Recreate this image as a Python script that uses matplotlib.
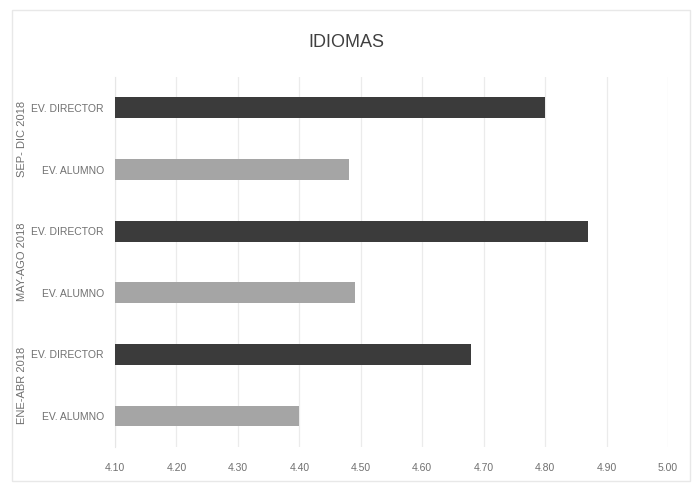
import matplotlib.pyplot as plt
import matplotlib.transforms as mtransforms
from matplotlib.patches import Rectangle

periods = ["ENE-ABR 2018", "MAY-AGO 2018", "SEP- DIC 2018"]
roles = ["EV. ALUMNO", "EV. DIRECTOR"]
alumno = [4.40, 4.49, 4.48]
director = [4.68, 4.87, 4.80]
xticks = [4.10, 4.20, 4.30, 4.40, 4.50, 4.60, 4.70, 4.80, 4.90, 5.00]

plt.rcParams["font.family"] = ["Liberation Sans", "DejaVu Sans"]

fig = plt.figure(figsize=(6.93, 4.91), dpi=100)
ax = fig.add_axes([0.166, 0.09, 0.798, 0.753])

dark = "#3b3b3b"
light = "#a5a5a5"

ypos = []
labels = []
vals = []
colors = []
for i, p in enumerate(periods):
    ypos += [2 * i, 2 * i + 1]
    labels += [roles[0], roles[1]]
    vals += [alumno[i], director[i]]
    colors += [light, dark]

base = xticks[0]
ax.barh(ypos, [v - base for v in vals], left=base, height=0.34, color=colors, zorder=3)

ax.set_xlim(xticks[0], xticks[-1])
ax.set_ylim(-0.5, len(ypos) - 0.5)
ax.set_xticks(xticks)
ax.set_xticklabels([f"{t:.2f}" for t in xticks], fontsize=7.5, color="#707070")
ax.set_yticks(ypos)
ax.set_yticklabels(labels, fontsize=7.5, color="#707070")
ax.tick_params(axis="both", length=0)
ax.tick_params(axis="x", pad=12)
ax.tick_params(axis="y", pad=8)
ax.grid(axis="x", color="#ebebeb", linewidth=0.9, zorder=0)
for s in ["top", "right", "bottom"]:
    ax.spines[s].set_visible(False)
ax.spines["left"].set_color("#e6e6e6")

# group labels for each period
trans = mtransforms.blended_transform_factory(ax.transAxes, ax.transData)
for i, p in enumerate(periods):
    ax.text(-0.168, 2 * i + 0.5, p, transform=trans, rotation=90,
            ha="center", va="center", fontsize=8, color="#707070")

fig.text(0.5, 0.913, "IDIOMAS", ha="center", va="center", fontsize=13, color="#404040")

fig.patches.append(Rectangle((0.018, 0.02), 0.978, 0.96, transform=fig.transFigure,
                             fill=False, edgecolor="#e8e8e8", linewidth=1))

fig.savefig("out.png", dpi=100)
